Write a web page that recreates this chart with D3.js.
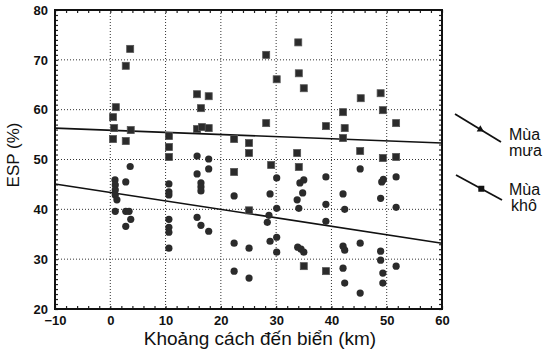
<!DOCTYPE html>
<html>
<head>
<meta charset="utf-8">
<script src="https://cdn.jsdelivr.net/npm/d3@7"></script>
<style>
  body { margin: 0; background: #fff; }
  svg { font-family: "Liberation Sans", Arial, sans-serif; }
</style>
</head>
<body>
<div id="chart"></div>
<script>
// wet season (squares)
const wetPoints = [
  [3.6,72.2],[2.8,68.8],[1.0,60.5],[0.5,58.5],[0.7,56.3],[3.7,55.9],[0.5,54.1],[2.8,53.7],
  [10.6,54.7],[10.6,52.5],[10.6,50.5],
  [15.7,63.1],[17.8,62.7],[16.4,60.3],[15.7,56.1],[16.6,56.5],[17.8,56.3],
  [28.2,71.0],[28.2,57.3],[22.4,54.1],[25.1,53.3],[25.1,51.3],[30.1,66.1],[34.1,67.3],
  [35.0,64.3],[34.0,73.5],[39.0,56.7],[33.8,51.3],[29.1,48.9],[22.4,47.5],[34.1,48.5],
  [25.1,39.8],[35.0,28.6],[39.0,27.6],
  [45.3,62.3],[48.9,63.3],[42.1,59.5],[49.3,59.9],[51.7,57.3],[42.4,56.3],[42.1,54.3],
  [45.2,51.7],[49.3,50.3],[51.7,50.5]
];
// dry season (circles)
const dryPoints = [
  [3.6,48.6],[0.85,45.9],[2.8,45.5],[0.9,44.9],[0.9,43.9],[0.9,42.9],[1.2,41.9],[0.9,39.6],
  [2.8,39.6],[3.4,39.6],[3.7,38.0],[2.8,36.6],
  [10.6,45.1],[10.6,43.5],[10.6,42.9],[10.6,38.0],[10.6,36.4],[10.6,35.4],[10.6,32.2],
  [15.7,50.7],[17.8,50.1],[17.8,48.1],[15.7,47.1],[16.4,45.3],[16.4,44.5],[16.4,43.7],
  [15.7,38.4],[16.4,36.8],[17.8,35.6],
  [30.1,46.3],[34.3,45.3],[35.0,45.9],[39.0,46.5],[22.4,42.7],[28.9,43.1],[34.8,43.3],
  [33.8,41.9],[34.1,40.2],[30.1,40.2],[28.7,38.8],[28.4,37.4],[39.0,41.0],[39.0,37.6],
  [22.4,33.2],[25.1,32.2],[28.9,33.6],[30.1,34.4],[30.1,31.4],[33.9,32.4],[34.5,32.0],
  [35.0,31.4],[22.4,27.6],[25.1,26.2],
  [45.2,48.1],[51.7,46.5],[49.1,45.5],[49.4,46.0],[42.1,43.1],[48.9,42.2],[42.4,40.0],
  [51.7,40.4],[45.2,33.2],[42.1,32.6],[42.4,31.8],[48.9,31.6],[48.9,29.8],[51.7,28.6],
  [42.1,28.2],[49.3,27.2],[42.4,25.2],[49.3,25.2],[45.2,23.2]
];
// trend lines [x, y] end points
const wetLine = [[-10, 56.3], [60, 53.3]];
const dryLine = [[-10, 45.1], [60, 33.2]];

const xTicks = [-10, 0, 10, 20, 30, 40, 50, 60];
const yTicks = [20, 30, 40, 50, 60, 70, 80];
const legendLabels = [["Mùa", "mưa"], ["Mùa", "khô"]];

const width = 544, height = 355;
const margin = { top: 10, right: 102, bottom: 46, left: 55 };
const w = width - margin.left - margin.right;
const h = height - margin.top - margin.bottom;

const svg = d3.select("#chart").append("svg")
  .attr("width", width)
  .attr("height", height);

const g = svg.append("g")
  .attr("transform", `translate(${margin.left},${margin.top})`);

const x = d3.scaleLinear().domain([-10, 60]).range([0, w]);
const y = d3.scaleLinear().domain([20, 80]).range([h, 0]);

// dotted grid
g.append("g")
  .selectAll("line")
  .data(xTicks.slice(1, -1))
  .join("line")
  .attr("x1", d => x(d)).attr("x2", d => x(d))
  .attr("y1", 0).attr("y2", h)
  .attr("stroke", "#333")
  .attr("stroke-width", 1)
  .attr("stroke-dasharray", "1,2");

g.append("g")
  .selectAll("line")
  .data(yTicks.slice(1, -1))
  .join("line")
  .attr("x1", 0).attr("x2", w)
  .attr("y1", d => y(d)).attr("y2", d => y(d))
  .attr("stroke", "#333")
  .attr("stroke-width", 1)
  .attr("stroke-dasharray", "1,2");

// minor ticks on all sides (inside)
const xMinor = d3.range(-10, 61, 2);
const yMinor = d3.range(20, 81, 1);
g.append("g").call(d3.axisBottom(x).tickValues(xMinor).tickSize(-3).tickFormat(""))
  .attr("transform", `translate(0,${h})`);
g.append("g").call(d3.axisTop(x).tickValues(xMinor).tickSize(-3).tickFormat(""));
g.append("g").call(d3.axisLeft(y).tickValues(yMinor).tickSize(-3).tickFormat(""));
g.append("g").call(d3.axisRight(y).tickValues(yMinor).tickSize(-3).tickFormat(""))
  .attr("transform", `translate(${w},0)`);
g.selectAll(".domain").remove();
g.selectAll(".tick line").attr("stroke", "#222").attr("stroke-width", 1.2);

// tick labels
const xAxis = g.append("g")
  .attr("transform", `translate(0,${h})`)
  .call(d3.axisBottom(x).tickValues(xTicks).tickSize(0).tickPadding(7));
xAxis.select(".domain").remove();
xAxis.selectAll("text")
  .style("font-size", "13px").style("font-weight", "bold").attr("fill", "#111");

const yAxis = g.append("g")
  .call(d3.axisLeft(y).tickValues(yTicks).tickSize(0).tickPadding(7));
yAxis.select(".domain").remove();
yAxis.selectAll("text")
  .style("font-size", "13px").style("font-weight", "bold").attr("fill", "#111");

// frame
g.append("rect")
  .attr("width", w).attr("height", h)
  .attr("fill", "none")
  .attr("stroke", "#111")
  .attr("stroke-width", 2);

// trend lines
const line = d3.line().x(d => x(d[0])).y(d => y(d[1]));
[wetLine, dryLine].forEach(l => {
  g.append("path")
    .datum(l)
    .attr("d", line)
    .attr("fill", "none")
    .attr("stroke", "#111")
    .attr("stroke-width", 1.6);
});

// points
const sq = 7;
g.append("g")
  .selectAll("rect")
  .data(wetPoints)
  .join("rect")
  .attr("x", d => x(d[0]) - sq / 2)
  .attr("y", d => y(d[1]) - sq / 2)
  .attr("width", sq).attr("height", sq)
  .attr("fill", "#2b2b2b")
  .attr("stroke", "#555")
  .attr("stroke-width", 0.8);

g.append("g")
  .selectAll("circle")
  .data(dryPoints)
  .join("circle")
  .attr("cx", d => x(d[0]))
  .attr("cy", d => y(d[1]))
  .attr("r", 3.6)
  .attr("fill", "#2b2b2b");

// axis titles
svg.append("text")
  .attr("x", 260)
  .attr("y", 345)
  .attr("text-anchor", "middle")
  .style("font-size", "19px")
  .attr("fill", "#111")
  .text("Khoảng cách đến biển (km)");

svg.append("text")
  .attr("transform", `translate(19,155) rotate(-90)`)
  .attr("text-anchor", "middle")
  .style("font-size", "17px")
  .attr("fill", "#111")
  .text("ESP (%)");

// legend
const legend = svg.append("g");
const legendRows = [
  { x1: 455, y1: 114, x2: 501, y2: 142, ty: 140 },
  { x1: 456, y1: 175, x2: 502, y2: 200, ty: 195 }
];
legendRows.forEach((r, i) => {
  legend.append("line")
    .attr("x1", r.x1).attr("y1", r.y1).attr("x2", r.x2).attr("y2", r.y2)
    .attr("stroke", "#111").attr("stroke-width", 1.8);
  const mx = r.x1 + (r.x2 - r.x1) * 0.55, my = r.y1 + (r.y2 - r.y1) * 0.55;
  if (i === 0) {
    legend.append("path")
      .attr("d", d3.symbol(d3.symbolTriangle, 22)())
      .attr("transform", `translate(${mx},${my}) rotate(120)`)
      .attr("fill", "#111");
  } else {
    legend.append("rect")
      .attr("x", mx - 3).attr("y", my - 3).attr("width", 6).attr("height", 6)
      .attr("fill", "#111");
  }
  legend.append("text")
    .attr("x", 509).attr("y", r.ty)
    .style("font-size", "16px").attr("fill", "#111")
    .text(legendLabels[i][0]);
  legend.append("text")
    .attr("x", 509 + (i === 1 ? 2 : 0)).attr("y", r.ty + 16)
    .style("font-size", "16px").attr("fill", "#111")
    .text(legendLabels[i][1]);
});
</script>
</body>
</html>
